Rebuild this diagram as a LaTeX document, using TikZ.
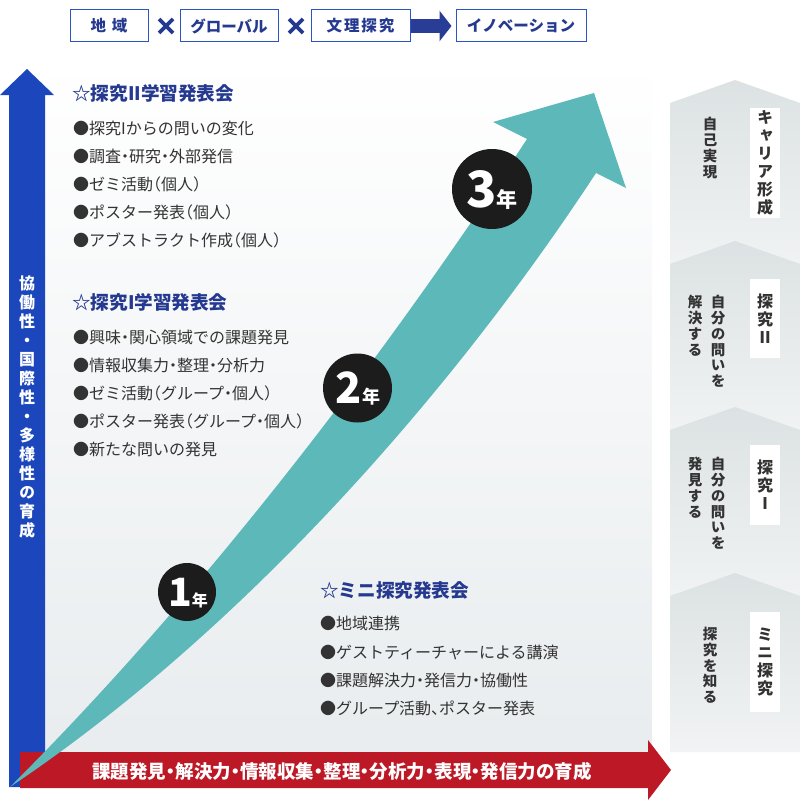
\documentclass[tikz,border=0pt]{standalone}
\usepackage{fontspec}
\newfontfamily\jp[RawFeature=+halt]{Noto Sans CJK JP}
\newfontfamily\jpv[RawFeature=+vert]{Noto Sans CJK JP}
\usepackage{tikz}
\usetikzlibrary{arrows.meta}

\definecolor{arrowblue}{HTML}{1B46BC}
\definecolor{boxblue}{HTML}{2A55C2}
\definecolor{navy}{HTML}{24398F}
\definecolor{darkarrow}{HTML}{2A3D96}
\definecolor{tealarrow}{HTML}{5DB9B9}
\definecolor{redarrow}{HTML}{BD1826}
\definecolor{ballblack}{HTML}{1C1C1C}
\definecolor{textgrey}{HTML}{333333}
\definecolor{panelgrey}{HTML}{E8ECEE}
\definecolor{chevtop}{HTML}{DCE2E3}
\definecolor{chevbottom}{HTML}{F1F3F4}

\tikzset{
  topbox/.style={draw=boxblue, line width=1pt, fill=white, minimum height=32pt, inner sep=0pt,
    text=navy, font=\jp\bfseries\fontsize{15.5}{15.5}\selectfont},
  crossmark/.style={draw=navy, line width=3.6pt},
  heading/.style={anchor=west, inner sep=0pt, text=navy, font=\jp\bfseries\fontsize{18.6}{18.6}\selectfont},
  item/.style={anchor=west, inner sep=0pt, text=textgrey, font=\jp\fontsize{16}{16}\selectfont},
  yearball/.style={circle, fill=ballblack, inner sep=0pt},
  yeartext/.style={anchor=base, inner sep=0pt, text=white, font=\jp\bfseries},
  vlabel/.style={fill=white, inner sep=0pt, minimum width=30pt, align=center, text=textgrey,
    font=\jpv\bfseries\fontsize{16}{18}\selectfont},
  vtext/.style={anchor=north, inner sep=0pt, align=center, text=textgrey,
    font=\jpv\bfseries\fontsize{14.5}{15.8}\selectfont},
}

\begin{document}
\begin{tikzpicture}[x=1pt,y=-1pt]
\useasboundingbox (0,0) rectangle (800,800);

\shade[top color=white, bottom color=panelgrey] (45,58) rectangle (652,770);

\foreach \py/\pb in {80/272, 241/438, 407/604, 573/752}{
  \shade[top color=chevtop, bottom color=chevbottom]
    (670,\py+23) -- (735,\py) -- (800,\py+23) -- (800,\pb) -- (670,\pb) -- cycle;
}

% top row
\node[topbox, minimum width=78pt] (region) at (109,26) {地\hspace{6pt}域};
\node[topbox, minimum width=98pt] (global) at (229,26) {グローバル};
\node[topbox, minimum width=99pt] (bunri) at (360.5,26) {\addfontfeatures{LetterSpace=12}文理探究};
\node[topbox, minimum width=130pt] (innov) at (521,26) {イノベーション};
\draw[crossmark] (159,19) -- (173,33) (173,19) -- (159,33);
\draw[crossmark] (289,19) -- (303,33) (303,19) -- (289,33);
\draw[darkarrow, line width=14pt, -{Triangle[length=12pt,width=30pt]}, shorten >=4pt] (bunri.east) -- (innov.west);

% axes
\fill[arrowblue] (9,787) -- (9,95) -- (0,95) -- (27,69) -- (54,95) -- (45,95) -- (45,787) -- cycle;
\node[anchor=north, inner sep=0pt, align=center, text=white, font=\jpv\bfseries\fontsize{16}{19}\selectfont] (axisv) at (27,276)
  {協\\働\\性\\・\\国\\際\\性\\・\\多\\様\\性\\の\\育\\成};
\fill[redarrow] (20,752) -- (648,752) -- (648,740) -- (671,770) -- (648,800) -- (648,788) -- (20,788) -- cycle;
\node[inner sep=0pt, text=white, font=\jp\bfseries\fontsize{18.5}{18.5}\selectfont] (axish) at (342,771)
  {課題発見・解決力・情報収集・整理・分析力・表現・発信力の育成};

% growth arrow
\fill[tealarrow] (10,787) .. controls (230,640) and (442,408) .. (596,173) -- (626,188) -- (594,93)
  -- (493,122) -- (527,139) .. controls (378,366) and (201,596) .. (10,787) -- cycle;

\node[yearball, minimum size=58pt] (year1) at (187,592) {};
\node[yeartext] (year1t) at (188,606) {{\fontsize{39}{39}\selectfont 1}{\fontsize{16}{16}\selectfont 年}};
\node[yearball, minimum size=69pt] (year2) at (357.5,388) {};
\node[yeartext] (year2t) at (358,403.5) {{\fontsize{43}{43}\selectfont 2}{\fontsize{18}{18}\selectfont 年}};
\node[yearball, minimum size=80pt] (year3) at (492,189) {};
\node[yeartext] (year3t) at (492,207) {{\fontsize{50}{50}\selectfont 3}{\fontsize{21}{21}\selectfont 年}};

% presentations
\node[heading] (head2) at (72,93) {☆探究II学習発表会};
\node[item] (s21) at (73,128) {●探究Iからの問いの変化};
\node[item] (s22) at (73,156) {●調査・研究・外部発信};
\node[item] (s23) at (73,184) {●ゼミ活動（個人）};
\node[item] (s24) at (73,212) {●ポスター発表（個人）};
\node[item] (s25) at (73,240) {●アブストラクト作成（個人）};

\node[heading] (head1) at (72,302) {☆探究I学習発表会};
\node[item] (s11) at (73,337) {●興味・関心領域での課題発見};
\node[item] (s12) at (73,365) {●情報収集力・整理・分析力};
\node[item] (s13) at (73,393) {●ゼミ活動（グループ・個人）};
\node[item] (s14) at (73,421) {●ポスター発表（グループ・個人）};
\node[item] (s15) at (73,449) {●新たな問いの発見};

\node[heading] (head0) at (320,590) {☆ミニ探究発表会};
\node[item] (s01) at (320,623) {●地域連携};
\node[item] (s02) at (320,652) {●ゲストティーチャーによる講演};
\node[item] (s03) at (320,680) {●課題解決力・発信力・協働性};
\node[item] (s04) at (320,708) {●グループ活動、ポスター発表};

% stages
\node[vlabel, minimum height=110pt] (career) at (765,163) {キ\\ャ\\リ\\ア\\形\\成};
\node[vtext] (careerd) at (710,117) {自\\己\\実\\現};
\node[vlabel, minimum height=79pt] (stage2) at (765,318.5) {探\\究\\Ⅱ};
\node[vtext] (stage2a) at (718,295) {自\\分\\の\\問\\い\\を};
\node[vtext] (stage2b) at (695,295) {解\\決\\す\\る};
\node[vlabel, minimum height=80pt] (stage1) at (765,485) {探\\究\\Ⅰ};
\node[vtext] (stage1a) at (718,457) {自\\分\\の\\問\\い\\を};
\node[vtext] (stage1b) at (695,457) {発\\見\\す\\る};
\node[vlabel, minimum height=100pt] (stage0) at (765,662) {ミ\\ニ\\探\\究};
\node[vtext] (stage0d) at (710,627) {探\\究\\を\\知\\る};
\end{tikzpicture}
\end{document}
